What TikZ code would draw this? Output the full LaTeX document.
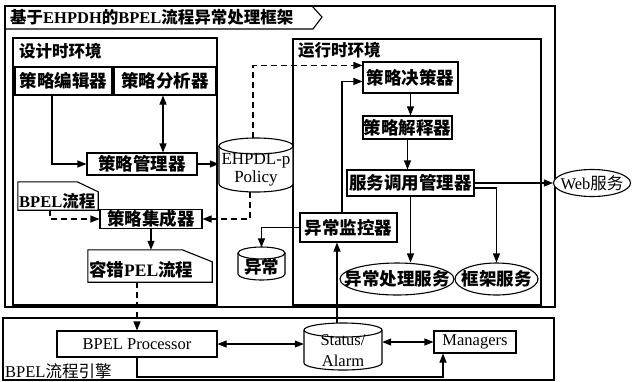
\documentclass[tikz,border=0pt]{standalone}
\usepackage{fontspec}
\setmainfont{Liberation Serif}
\newfontfamily\cjk{Noto Sans CJK SC}
\usetikzlibrary{arrows.meta,shapes.geometric}
\newcommand\zh[1]{{\cjk #1}}
\tikzset{
  ln/.style={line width=1.1pt},
  box/.style={draw, ln, inner sep=0pt, fill=white, font=\bfseries\fontsize{17.5}{19}\selectfont},
  lab/.style={inner sep=0pt, font=\bfseries\fontsize{16.5}{19}\selectfont},
  blab/.style={inner sep=0pt, font=\bfseries\fontsize{17.5}{19}\selectfont},
  en/.style={inner sep=0pt, font=\fontsize{16.5}{20}\selectfont},
  ghost/.style={inner sep=0pt},
  oval/.style={draw, ln, fill=white, ellipse, inner sep=0pt},
  arr/.style={ln, -{Triangle[length=9pt,width=7pt]}},
  barr/.style={ln, {Triangle[length=9pt,width=7pt]}-{Triangle[length=9pt,width=7pt]}},
  darr/.style={arr, dash pattern=on 6pt off 4pt},
}
\begin{document}
\begin{tikzpicture}[x=1pt,y=-1pt]
\useasboundingbox (0,0) rectangle (636,381);

% ---------- outer frame ----------
\draw[ln] (5,6) rectangle (555,307);
\draw[ln] (5,6) -- (312,6) -- (322,17) -- (313,29) -- (5,29);
\node[lab, anchor=west] (title) at (10,17.5) {\zh{基于}EHPDH\zh{的}BPEL\zh{流程异常处理框架}};

% ---------- design-time environment ----------
\draw[ln] (13,38) rectangle (217,305);
\node[lab, anchor=west] (dlab) at (19,51) {\zh{设计时环境}};
\node[box, minimum width=97pt, minimum height=28pt] (edit) at (63.5,81) {\zh{策略编辑器}};
\node[box, minimum width=102pt, minimum height=28pt] (ana) at (165,81) {\zh{策略分析器}};
\node[box, minimum width=110pt, minimum height=22pt] (mgr) at (142,164) {\zh{策略管理器}};
\node[box, minimum width=102pt, minimum height=19pt] (int) at (151,219) {\zh{策略集成器}};

% BPEL document
\node[ghost, minimum width=80pt, minimum height=28pt] (bdoc) at (58,196) {};
\draw[ln, fill=white] (bdoc.north west) -- ([xshift=-21pt]bdoc.north east) -- ([yshift=-10pt]bdoc.north east)
  -- (bdoc.south east) -- (bdoc.south west) -- cycle;
\node[lab, anchor=west] (bdoctext) at (19,201) {BPEL\zh{流程}};

% fault-tolerant document
\node[ghost, minimum width=124pt, minimum height=32pt] (ft) at (150,266) {};
\draw[ln, fill=white] (ft.north west) -- ([xshift=-30pt]ft.north east) -- ([yshift=-12pt]ft.north east)
  -- (ft.south east) -- (ft.south west) -- cycle;
\node[blab, anchor=west] (fttext) at (89,270) {\zh{容错}PEL\zh{流程}};

% ---------- runtime environment ----------
\draw[ln] (293,39) rectangle (541,305);
\node[lab, anchor=west] (rlab) at (298,50) {\zh{运行时环境}};
\node[box, minimum width=95pt, minimum height=31pt] (dec) at (410.5,77.5) {\zh{策略决策器}};
\node[box, minimum width=89pt, minimum height=23pt] (interp) at (407.5,127.5) {\zh{策略解释器}};
\node[box, minimum width=127pt, minimum height=26pt] (svc) at (410.5,183) {\zh{服务调用管理器}};
\node[box, minimum width=97pt, minimum height=29pt] (mon) at (348.5,227.5) {\zh{异常监控器}};
\node[oval, minimum width=114pt, minimum height=32pt, label={[blab]center:\zh{异常处理服务}}] (ehs) at (397,279) {};
\node[oval, minimum width=83pt, minimum height=32pt, label={[blab]center:\zh{框架服务}}] (fws) at (496.5,279) {};
\node[oval, minimum width=77pt, minimum height=27pt,
  label={[inner sep=0pt, font=\fontsize{16.5}{19}\selectfont]center:Web\zh{服务}}] (web) at (592,183) {};

% Policy cylinder
\draw[ln, fill=white] (219,146) -- (219,184) arc[start angle=180, end angle=0, x radius=37, y radius=8] -- (293,146);
\draw[ln] (256,146) ellipse [x radius=37, y radius=8];
\node[ghost, minimum width=74pt, minimum height=54pt] (pol) at (256,165) {};
\node[en, align=center, font=\fontsize{17}{18}\selectfont] (poltext) at (256,170) {EHPDL-p\\Policy};

% exception cylinder
\draw[ln, fill=white] (238,253) -- (238,274) arc[start angle=180, end angle=0, x radius=23.5, y radius=6] -- (285,253);
\draw[ln] (261.5,253) ellipse [x radius=23.5, y radius=6];
\node[ghost, minimum width=47pt, minimum height=33pt] (exc) at (261.5,264) {};
\node[blab] (exctext) at (261.5,267) {\zh{异常}};

% ---------- BPEL engine ----------
\draw[ln] (3,318) rectangle (554,380);
\node[lab, anchor=west, font=\fontsize{16.5}{19}\selectfont] (elab) at (5,371) {BPEL\zh{流程引擎}};
\node[box, font=\fontsize{16.5}{19}\selectfont, minimum width=160pt, minimum height=26pt] (proc) at (137,344) {BPEL Processor};
\node[box, font=\fontsize{16.5}{19}\selectfont, minimum width=82pt, minimum height=22pt] (man) at (475,342) {Managers};

% Status/Alarm cylinder
\draw[ln, fill=white] (304,330) -- (304,363) arc[start angle=180, end angle=0, x radius=39, y radius=7] -- (382,330);
\draw[ln] (343,330) ellipse [x radius=39, y radius=7];
\node[ghost, minimum width=78pt, minimum height=47pt] (sa) at (343,346.5) {};
\node[en, align=center, font=\fontsize{16.5}{21}\selectfont] (satext) at (343,351) {Status/\\Alarm};

% ---------- connectors ----------
\coordinate (lowc) at (0,377);
\draw[arr] ([xshift=-11.5pt]edit.south) |- (mgr.west);
\draw[barr] ([xshift=-2pt]ana.south) -- ([xshift=-2pt]ana.south |- mgr.north);
\draw[arr] (mgr.east) -- (mgr.east -| pol.west);
\draw[darr] ([xshift=-3pt]pol.north) |- ([yshift=-4pt]dec.north west);
\draw[arr] ([xshift=-6.5pt]mon.north) |- ([yshift=-20pt]dec.north west);
\draw[arr] (dec.south) -- (dec.south |- interp.north);
\draw[arr] (interp.south) -- (interp.south |- svc.north);
\draw[arr] (svc.east) -- (web.west);
\draw[arr] ([yshift=-5pt]svc.east) -| (fws.north);
\draw[arr] (svc.south) -- (svc.south |- ehs.north);
\draw[arr] (mon.west) -| (exc.north);
\draw[arr] ([xshift=-6pt]sa.north) -- ([xshift=-6pt]sa.north |- mon.south);
\draw[darr] ([xshift=-8pt]bdoc.south) |- (int.west);
\draw[darr] ([xshift=-6pt]pol.south) |- (int.east);
\draw[arr] (int.south) -- (int.south |- ft.north);
\draw[darr] (proc.north |- ft.south) -- (proc.north);
\draw[barr] (proc.east) -- (proc.east -| sa.west);
\draw[barr] (sa.east |- man.west) -- (man.west);
\draw[arr] (proc.south) -- (proc.south |- lowc) -| ([xshift=-32pt]man.south);
\end{tikzpicture}
\end{document}
